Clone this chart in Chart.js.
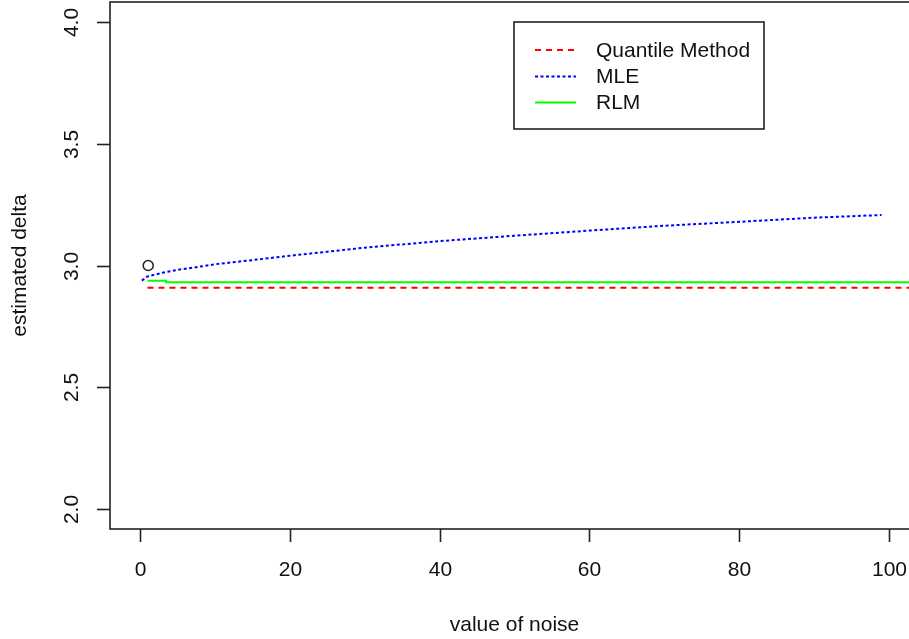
<!DOCTYPE html>
<html>
<head>
<meta charset="utf-8">
<script src="https://cdn.jsdelivr.net/npm/chart.js@4"></script>
<style>
  html, body { margin: 0; padding: 0; background: #fff; overflow: hidden; }
  #wrap { position: absolute; left: 0; top: 0; width: 909px; height: 639px; overflow: hidden; }
</style>
</head>
<body>
<div id="wrap"><canvas id="chart" width="930" height="639"></canvas></div>
<script>
// values
const xTicks = [0, 20, 40, 60, 80, 100];
const yTicks = [2.0, 2.5, 3.0, 3.5, 4.0];

const mleX = [0.25, 1, 3, 5, 7.5, 10, 15, 20, 30, 40, 50, 60, 70, 80, 90, 99];
const mleY = [2.938, 2.955, 2.970, 2.982, 2.993, 3.005, 3.022, 3.040, 3.073, 3.100, 3.122, 3.143, 3.163, 3.179, 3.196, 3.207];

const rlmX = [1, 3.5, 3.5, 104];
const rlmY = [2.938, 2.938, 2.931, 2.931];

const quantX = [1, 104];
const quantY = [2.909, 2.909];

const startX = [1.1];
const startY = [3.0];

const legendLabels = ["Quantile Method", "MLE", "RLM"];

function pairs(xs, ys) {
    return xs.map((x, i) => ({ x: x, y: ys[i] }));
}

const font = '"Liberation Sans", Arial, sans-serif';

const rAxes = {
    id: 'rAxes',
    afterDraw(chart) {
        const ctx = chart.ctx;
        const area = chart.chartArea;
        const xs = chart.scales.x;
        const ys = chart.scales.y;
        ctx.save();

        // box
        ctx.strokeStyle = '#222';
        ctx.lineWidth = 1.6;
        ctx.strokeRect(area.left, area.top, area.right - area.left, area.bottom - area.top);

        ctx.fillStyle = '#111';
        ctx.font = '21px ' + font;

        // x ticks
        ctx.textAlign = 'center';
        ctx.textBaseline = 'middle';
        for (const t of xTicks) {
            const px = Math.round(xs.getPixelForValue(t)) + 0.5;
            ctx.beginPath();
            ctx.moveTo(px, area.bottom);
            ctx.lineTo(px, area.bottom + 13);
            ctx.stroke();
            ctx.fillText(String(t), px, 570);
        }

        // y ticks (labels rotated like R's default)
        for (const t of yTicks) {
            const py = Math.round(ys.getPixelForValue(t)) + 0.5;
            ctx.beginPath();
            ctx.moveTo(area.left, py);
            ctx.lineTo(area.left - 13, py);
            ctx.stroke();
            ctx.save();
            ctx.translate(72, py);
            ctx.rotate(-Math.PI / 2);
            ctx.fillText(t.toFixed(1), 0, 0);
            ctx.restore();
        }

        // axis titles
        ctx.fillText('value of noise', (area.left + area.right) / 2, 625);
        ctx.save();
        ctx.translate(20, (area.top + area.bottom) / 2);
        ctx.rotate(-Math.PI / 2);
        ctx.fillText('estimated delta', 0, 0);
        ctx.restore();

        // legend
        ctx.fillStyle = '#fff';
        ctx.fillRect(514, 22, 250, 107);
        ctx.strokeStyle = '#222';
        ctx.lineWidth = 1.6;
        ctx.strokeRect(514, 22, 250, 107);

        const styles = [
            { color: '#FF0000', dash: [6, 5] },
            { color: '#0000FF', dash: [3, 2.5] },
            { color: '#00FF00', dash: [] }
        ];
        const rows = [50, 76.5, 102.5];
        ctx.textAlign = 'left';
        legendLabels.forEach((label, i) => {
            ctx.strokeStyle = styles[i].color;
            ctx.lineWidth = 2;
            ctx.setLineDash(styles[i].dash);
            ctx.beginPath();
            ctx.moveTo(535, rows[i]);
            ctx.lineTo(576, rows[i]);
            ctx.stroke();
            ctx.setLineDash([]);
            ctx.fillStyle = '#111';
            ctx.fillText(label, 596, rows[i] + 1);
        });

        ctx.restore();
    }
};

new Chart(document.getElementById('chart'), {
    type: 'line',
    data: {
        datasets: [
            {
                label: 'Quantile Method',
                data: pairs(quantX, quantY),
                borderColor: '#FF0000',
                borderWidth: 2,
                borderDash: [6, 5],
                pointRadius: 0
            },
            {
                label: 'RLM',
                data: pairs(rlmX, rlmY),
                borderColor: '#00FF00',
                borderWidth: 2,
                pointRadius: 0
            },
            {
                label: 'MLE',
                data: pairs(mleX, mleY),
                borderColor: '#0000FF',
                borderWidth: 2,
                borderDash: [3, 2.5],
                pointRadius: 0
            },
            {
                label: 'start',
                data: pairs(startX, startY),
                showLine: false,
                pointRadius: 5,
                pointBorderWidth: 1.5,
                pointBorderColor: '#222',
                pointBackgroundColor: 'rgba(0,0,0,0)'
            }
        ]
    },
    options: {
        responsive: false,
        animation: false,
        layout: { autoPadding: false, padding: { left: 110, top: 2, right: 11, bottom: 110 } },
        plugins: { legend: { display: false }, tooltip: { enabled: false } },
        scales: {
            x: { type: 'linear', min: -4, max: 104, display: false },
            y: { type: 'linear', min: 1.92, max: 4.08, display: false }
        }
    },
    plugins: [rAxes]
});
</script>
</body>
</html>
